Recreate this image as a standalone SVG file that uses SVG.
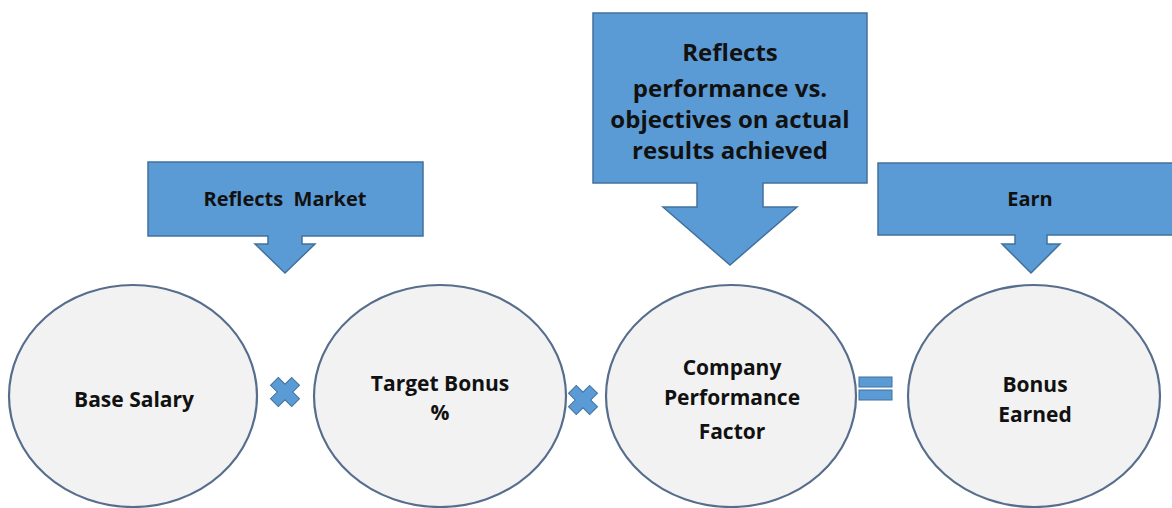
<svg xmlns="http://www.w3.org/2000/svg" width="1172" height="508" viewBox="0 0 1172 508">
<style>
.callout{fill:#5b9bd5;stroke:#41719c;stroke-width:1.5}
.node{fill:#f2f2f2;stroke:#566d8c;stroke-width:2.2}
.op{fill:#5b9bd5;stroke:#41719c;stroke-width:1}
.t{font-family:"Open Sans","Liberation Sans",sans-serif;font-weight:700;fill:#111;text-anchor:middle}
.tc{font-size:21px}
.tb{font-size:20px}
.tb2{font-size:24px}
</style>
<defs>
<polygon id="mult" points="-5.5,-15 5.5,-15 5.5,-5.5 15,-5.5 15,5.5 5.5,5.5 5.5,15 -5.5,15 -5.5,5.5 -15,5.5 -15,-5.5 -5.5,-5.5" transform="rotate(45)"/>
</defs>
<rect width="1172" height="508" fill="#ffffff"/>

<g id="callout-market">
<path class="callout" d="M148,162 H423 V236 H302 V244 H315 L285,273 L255,244 H268 V236 H148 Z"/>
<text class="t tb" x="285" y="206" xml:space="preserve">Reflects  Market</text>
</g>

<g id="callout-performance">
<path class="callout" d="M593,13 H867 V183 H763 V207 H797 L730,265 L663,207 H697 V183 H593 Z"/>
<text class="t tb2" x="730" y="61">Reflects</text>
<text class="t tb2" x="730" y="97">performance vs.</text>
<text class="t tb2" x="730" y="128">objectives on actual</text>
<text class="t tb2" x="730" y="159">results achieved</text>
</g>

<g id="callout-earn">
<path class="callout" d="M878,163 H1173 V235 H1047 V244 H1060 L1031,273 L1002,244 H1015 V235 H878 Z"/>
<text class="t tb" x="1030" y="206">Earn</text>
</g>

<g id="node-base-salary">
<ellipse class="node" cx="133" cy="396" rx="124" ry="111"/>
<text class="t tc" x="134" y="407">Base Salary</text>
</g>

<g id="node-target-bonus">
<ellipse class="node" cx="440" cy="396" rx="126" ry="111"/>
<text class="t tc" x="440" y="391">Target Bonus</text>
<text class="t tc" x="440" y="420">%</text>
</g>

<g id="node-company-performance">
<ellipse class="node" cx="731" cy="396" rx="125" ry="111"/>
<text class="t tc" x="732" y="375">Company</text>
<text class="t tc" x="732" y="405">Performance</text>
<text class="t tc" x="732" y="439">Factor</text>
</g>

<g id="node-bonus-earned">
<ellipse class="node" cx="1034" cy="396" rx="126" ry="111"/>
<text class="t tc" x="1035" y="392">Bonus</text>
<text class="t tc" x="1035" y="422">Earned</text>
</g>

<g id="connectors">
<use href="#mult" class="op" x="285" y="392"/>
<use href="#mult" class="op" x="583" y="400"/>
<rect class="op" x="859" y="377" width="33" height="10"/>
<rect class="op" x="859" y="390" width="33" height="10"/>
</g>
</svg>
